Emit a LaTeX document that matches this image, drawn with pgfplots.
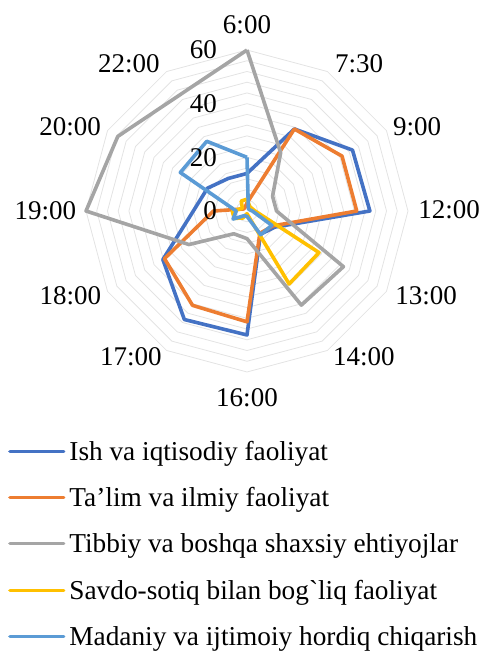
\documentclass[border=0pt]{standalone}
\usepackage{pgfplots}
\pgfplotsset{compat=1.18}
\usepgfplotslibrary{polar}
\usepackage{fontspec}
\setmainfont{Liberation Serif}
\definecolor{cBlue}{HTML}{4472C4}
\definecolor{cOrange}{HTML}{ED7D31}
\definecolor{cGray}{HTML}{A5A5A5}
\definecolor{cYellow}{HTML}{FFC000}
\definecolor{cLBlue}{HTML}{5B9BD5}
\definecolor{gridc}{HTML}{E3E3E3}
\newcommand{\lab}{\fontsize{27}{32}\selectfont}
\begin{document}
\begin{tikzpicture}
\useasboundingbox (0,0) rectangle (486pt,653pt);
\begin{polaraxis}[
  at={(247pt,442pt)}, anchor=center,
  scale only axis, width=322pt, height=322pt,
  ymin=0, ymax=60, hide axis, clip=false,
  legend style={font=\fontsize{27.3}{32}\selectfont, draw=none, fill=none,
    at={(-0.2422,-0.199)}, anchor=north west, inner sep=0pt,
    row sep=16.3pt, column sep=4pt,
    nodes={text height=24pt, text depth=6pt, inner sep=0pt},
    cells={anchor=west}},
  legend image code/.code={\draw[#1,line cap=round,line width=3.2pt] (0pt,0pt) -- (54pt,0pt);},
  every axis plot/.append style={line width=3.6pt, line join=round},
]
\pgfplotsinvokeforeach{4,8,...,60}{
  \addplot[forget plot, draw=gridc, line width=0.8pt] coordinates {(90,#1) (60,#1) (30,#1) (0,#1) (-30,#1) (-60,#1) (-90,#1) (-120,#1) (-150,#1) (180,#1) (150,#1) (120,#1) (90,#1)};
}
% order: 6:00 7:30 9:00 12:00 13:00 14:00 16:00 17:00 18:00 19:00 20:00 22:00
\addplot[cBlue] coordinates {(90,14) (60,35.3) (30,45.4) (0,45.8) (-30,12) (-60,10) (-90,46.2) (-120,46.7) (-150,36.2) (180,20) (150,17) (120,14) (90,14)};
\addlegendentry{Ish va iqtisodiy faoliyat}
\addplot[cOrange] coordinates {(90,3) (60,35.3) (30,40.9) (0,40.9) (-30,11.1) (-60,9.6) (-90,41.3) (-120,40.6) (-150,35.5) (180,12.5) (150,1.5) (120,1.5) (90,3)};
\addlegendentry{Ta’lim va ilmiy faoliyat}
\addplot[cGray] coordinates {(90,60) (60,25.1) (30,11) (0,11) (-30,41.5) (-60,40.5) (-90,10.3) (-120,9.8) (-150,25) (180,60) (150,55.6) (120,50) (90,60)};
\addlegendentry{Tibbiy va boshqa shaxsiy ehtiyojlar}
\addplot[cYellow] coordinates {(90,4.4) (60,2) (30,2) (0,3) (-30,31) (-60,31.4) (-90,1) (-120,3) (-150,5.5) (180,5.5) (150,2) (120,4.3) (90,4.4)};
\addlegendentry{Savdo-sotiq bilan bog\textasciigrave liq faoliyat}
\addplot[cLBlue] coordinates {(90,20) (60,1) (30,1) (0,2) (-30,10.7) (-60,10.2) (-90,2) (-120,2) (-150,6) (180,4) (150,28.7) (120,30) (90,20)};
\addlegendentry{Madaniy va ijtimoiy hordiq chiqarish}
% category labels
\node[font=\lab, inner sep=0pt] at (axis cs:90,69.3) {6:00};
\node[font=\lab, inner sep=0pt] at (axis cs:52.7,68.9) {7:30};
\node[font=\lab, inner sep=0pt] at (axis cs:26.3,70.7) {9:00};
\node[font=\lab, inner sep=0pt] at (axis cs:0.3,75.3) {12:00};
\node[font=\lab, inner sep=0pt] at (axis cs:-25.4,73.9) {13:00};
\node[font=\lab, inner sep=0pt] at (axis cs:-51.3,69.7) {14:00};
\node[font=\lab, inner sep=0pt] at (axis cs:-90,69.5) {16:00};
\node[font=\lab, inner sep=0pt] at (axis cs:-128.5,69.5) {17:00};
\node[font=\lab, inner sep=0pt] at (axis cs:-154.3,73.1) {18:00};
\node[font=\lab, inner sep=0pt] at (axis cs:180,75.1) {19:00};
\node[font=\lab, inner sep=0pt] at (axis cs:154.6,73) {20:00};
\node[font=\lab, inner sep=0pt] at (axis cs:128.8,70.3) {22:00};
% radial labels
\node[font=\lab, inner sep=0pt, anchor=east, xshift=-30pt] at (axis cs:90,0) {0};
\node[font=\lab, inner sep=0pt, anchor=east, xshift=-30pt] at (axis cs:90,20) {20};
\node[font=\lab, inner sep=0pt, anchor=east, xshift=-30pt] at (axis cs:90,40) {40};
\node[font=\lab, inner sep=0pt, anchor=east, xshift=-30pt] at (axis cs:90,60) {60};
\end{polaraxis}
\end{tikzpicture}
\end{document}
